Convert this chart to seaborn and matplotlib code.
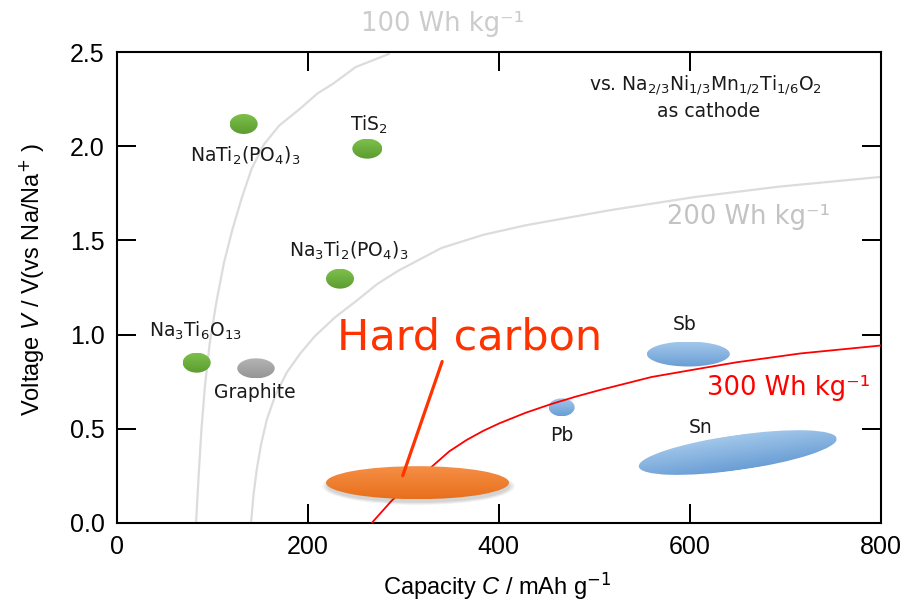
import numpy as np
import pandas as pd
import matplotlib
matplotlib.use("Agg")
import matplotlib.pyplot as plt
import matplotlib.transforms as mtransforms
from matplotlib.patches import Ellipse
from matplotlib.colors import LinearSegmentedColormap
import seaborn as sns

# ---------------- data ----------------
# anode materials: capacity (mAh/g) and voltage (V vs Na/Na+)
materials = ["NaTi2(PO4)3", "TiS2", "Na3Ti2(PO4)3", "Na3Ti6O13", "Graphite",
             "Hard carbon", "Pb", "Sb", "Sn"]
mat_capacity = [132.7, 262.2, 233.6, 83.5, 145.6, 314.8, 465.8, 598.5, 650.3]
mat_voltage = [2.118, 1.987, 1.297, 0.851, 0.821, 0.214, 0.614, 0.897, 0.374]
mat_group = ["green", "green", "green", "green", "grey", "orange", "blue", "blue", "blue"]

# iso-energy-density curves
e100_cap = [82.8, 85.5, 88.5, 92, 97, 104, 112, 121, 131, 141, 154, 170, 192, 210, 227, 250, 285]
e100_volt = [0.0, 0.25, 0.5, 0.72, 0.95, 1.17, 1.38, 1.56, 1.73, 1.88, 2.01, 2.11, 2.20, 2.28, 2.334, 2.42, 2.49]
e200_cap = [140.4, 143, 146.3, 151, 157, 166, 178, 192, 207, 228, 251, 273, 295, 340, 384, 428, 516, 605, 693, 800]
e200_volt = [0.0, 0.15, 0.28, 0.42, 0.55, 0.68, 0.80, 0.90, 0.99, 1.09, 1.18, 1.27, 1.34, 1.46, 1.53, 1.58, 1.66, 1.73, 1.785, 1.837]
e300_cap = [266.8, 288, 310, 330, 348, 366, 384, 401, 428, 454, 480, 506, 560, 611, 649, 716, 760, 800]
e300_volt = [0.0, 0.12, 0.22, 0.30, 0.38, 0.44, 0.49, 0.53, 0.585, 0.63, 0.67, 0.706, 0.775, 0.82, 0.853, 0.90, 0.922, 0.942]

x_ticks = [0, 200, 400, 600, 800]
y_ticks = [0.0, 0.5, 1.0, 1.5, 2.0, 2.5]

# ---------------- styling ----------------
sns.set_theme(style="white")
plt.rcParams["font.family"] = ["Liberation Sans", "DejaVu Sans"]
plt.rcParams["mathtext.fontset"] = "custom"
plt.rcParams["mathtext.rm"] = "DejaVu Sans"
plt.rcParams["mathtext.it"] = "Liberation Sans:italic"
plt.rcParams["xtick.bottom"] = True
plt.rcParams["xtick.top"] = True
plt.rcParams["ytick.left"] = True
plt.rcParams["ytick.right"] = True
plt.rcParams["xtick.direction"] = "in"
plt.rcParams["ytick.direction"] = "in"
plt.rcParams["text.color"] = "black"
plt.rcParams["axes.labelcolor"] = "black"

# ellipse sizes in pixels (width, height, angle)
ell_size = {
    "NaTi2(PO4)3": (28, 20, 0), "TiS2": (30, 20, 0), "Na3Ti2(PO4)3": (28, 20, 0),
    "Na3Ti6O13": (28, 20, 0), "Graphite": (37.5, 20, 0), "Hard carbon": (183, 33, 0),
    "Pb": (26, 18, 0), "Sb": (83, 25, 0), "Sn": (200, 35, 8.1),
}
grad_colors = {
    "green": ("#7cc04a", "#5c9c31"),
    "grey": ("#b4b4b4", "#959595"),
    "orange": ("#f58f45", "#e86f1c"),
    "blue": ("#a2c7ea", "#6a9ed5"),
}
zorders = {"green": 3, "grey": 3, "orange": 5, "blue": 2}

fig = plt.figure(figsize=(9.04, 6.03), dpi=100)
axes_rect = [117 / 904, 1 - 523 / 603, (880.7 - 117) / 904, (523 - 52) / 603]
ax = fig.add_axes(axes_rect)

# curves
df100 = pd.DataFrame({"cap": e100_cap, "volt": e100_volt})
df200 = pd.DataFrame({"cap": e200_cap, "volt": e200_volt})
df300 = pd.DataFrame({"cap": e300_cap, "volt": e300_volt})
sns.lineplot(data=df100, x="cap", y="volt", ax=ax, color="#dcdcdc", lw=1.6, sort=False, estimator=None, zorder=1)
sns.lineplot(data=df200, x="cap", y="volt", ax=ax, color="#dcdcdc", lw=1.6, sort=False, estimator=None, zorder=1)
sns.lineplot(data=df300, x="cap", y="volt", ax=ax, color="#ff0000", lw=1.3, sort=False, estimator=None, zorder=4)


def grad_ellipse(x, y, w, h, ang, ctop, cbot, z, shadow=False):
    w_in, h_in = w / 100.0, h / 100.0
    base = mtransforms.ScaledTranslation(x, y, ax.transData)
    if shadow:
        for k, a in enumerate([0.05, 0.05, 0.06, 0.07]):
            grow = (3 - k) * 1.6 / 100.0
            str_ = (mtransforms.Affine2D().rotate_deg(ang).translate(0.01, -0.035)
                    + fig.dpi_scale_trans + base)
            ax.add_patch(Ellipse((0, 0), w_in + grow * 2, h_in + grow, transform=str_,
                                 facecolor="#404040", edgecolor="none", alpha=a, zorder=z - 0.5))
    tr = mtransforms.Affine2D().rotate_deg(ang) + fig.dpi_scale_trans + base
    e = Ellipse((0, 0), w_in, h_in, transform=tr, facecolor="none", edgecolor="none", zorder=z)
    ax.add_patch(e)
    cmap = LinearSegmentedColormap.from_list("g", [cbot, ctop])
    grad = np.linspace(0, 1, 64).reshape(-1, 1)
    im = ax.imshow(grad, cmap=cmap, extent=(-w_in / 2, w_in / 2, -h_in / 2, h_in / 2),
                   origin="lower", transform=tr, aspect="auto", zorder=z,
                   interpolation="bilinear")
    im.set_clip_path(e)


for name, cx, cy, grp in zip(materials, mat_capacity, mat_voltage, mat_group):
    w, h, ang = ell_size[name]
    ctop, cbot = grad_colors[grp]
    grad_ellipse(cx, cy, w, h, ang, ctop, cbot, zorders[grp], shadow=(grp == "orange"))

# labels of materials
lab_kw = dict(family="DejaVu Sans", fontsize=13.5, color="#1a1a1a", ha="center", va="center", zorder=7)
ax.text(134, 1.955, r"NaTi$_2$(PO$_4$)$_3$", **lab_kw)
ax.text(264, 2.118, r"TiS$_2$", **lab_kw)
ax.text(242.3, 1.449, r"Na$_3$Ti$_2$(PO$_4$)$_3$", **lab_kw)
ax.text(81.7, 1.024, r"Na$_3$Ti$_6$O$_{13}$", **lab_kw)
ax.text(144.6, 0.692, "Graphite", **lab_kw)
ax.text(465.8, 0.467, "Pb", **lab_kw)
ax.text(595, 1.056, "Sb", **lab_kw)
ax.text(611.4, 0.508, "Sn", **lab_kw)

ax.text(616.7, 2.325, r"vs. Na$_{2/3}$Ni$_{1/3}$Mn$_{1/2}$Ti$_{1/6}$O$_2$", **lab_kw)
ax.text(620.2, 2.184, "as cathode", **lab_kw)

# energy density labels
ax.text(340.6, 2.651, "100 Wh kg⁻¹", family="DejaVu Sans", fontsize=18.5, color="#cccccc",
        ha="center", va="center", clip_on=False)
ax.text(661, 1.626, "200 Wh kg⁻¹", family="DejaVu Sans", fontsize=18.5, color="#c3c3c3",
        ha="center", va="center")
ax.text(704, 0.715, "300 Wh kg⁻¹", family="DejaVu Sans", fontsize=18.5, color="#ff0000",
        ha="center", va="center")

# hard carbon callout
ax.annotate("Hard carbon", xy=(299.3, 0.251), xytext=(369.6, 0.986),
            family="DejaVu Sans", fontsize=31, color="#ff3300", ha="center", va="center",
            arrowprops=dict(arrowstyle="-", color="#ff3300", lw=2.3, shrinkA=0, shrinkB=0,
                            relpos=(0.4, 0.0)),
            zorder=8)

# axes
ax.set_xlim(0, 800)
ax.set_ylim(0, 2.5)
ax.set_xticks(x_ticks, labels=[str(v) for v in x_ticks])
ax.set_yticks(y_ticks, labels=[f"{v:.1f}" for v in y_ticks])
for sp in ax.spines.values():
    sp.set_linewidth(1.5)
    sp.set_color("black")

ax.set_xlabel(r"Capacity $\mathit{C}$ / mAh g$^{-1}$", fontsize=17, color="black")
ax.set_ylabel(r"Voltage $\mathit{V}$ / V(vs Na/Na$^{+}$ )", fontsize=17, color="black")
ax.xaxis.set_label_coords((497.5 - 117) / 763.7, (523 - 595) / 471)
ax.xaxis.label.set_va("baseline")
ax.yaxis.set_label_coords((32 - 117) / 763.7, (523 - 280) / 471)
ax.yaxis.label.set_va("center")

ax.xaxis.set_ticks_position("both")
ax.yaxis.set_ticks_position("both")
ax.tick_params(axis="both", which="major", direction="in", length=13.5, width=1.4,
               top=True, right=True, bottom=True, left=True,
               labelsize=18, pad=9, color="black", labelcolor="black")

# transparent overlay axes carrying the inward tick marks on all four sides
ax_t = fig.add_axes(axes_rect, frameon=False, zorder=ax.get_zorder() + 1)
ax_t.patch.set_visible(False)
ax_t.set_xlim(0, 800)
ax_t.set_ylim(0, 2.5)
ax_t.set_xticks(x_ticks)
ax_t.set_yticks(y_ticks)
ax_t.tick_params(axis="both", which="major", direction="in", length=13.5, width=1.4,
                 top=True, right=True, bottom=True, left=True, color="black",
                 labelbottom=False, labelleft=False, labeltop=False, labelright=False)
ax_t.grid(False)

fig.savefig("out.png", dpi=100)
